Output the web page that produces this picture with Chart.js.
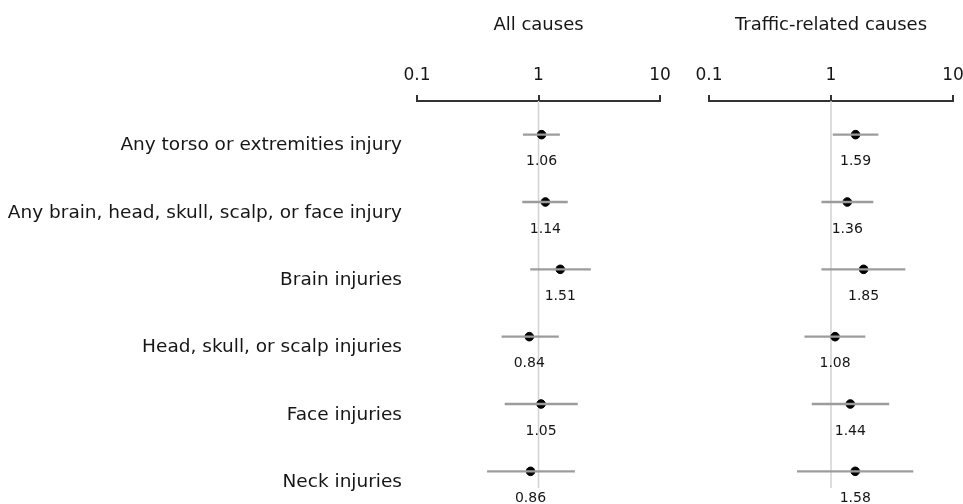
<!DOCTYPE html>
<html>
<head>
<meta charset="utf-8">
<script src="https://cdn.jsdelivr.net/npm/chart.js@4/dist/chart.umd.min.js"></script>
<style>
  body { margin: 0; background: #fff; }
  #wrap { position: relative; width: 963px; height: 504px; overflow: hidden; }
  canvas { position: absolute; top: 0; }
  #allChart { left: 0; }
  #trafficChart { left: 690px; }
</style>
</head>
<body>
<div id="wrap">
  <canvas id="allChart" width="690" height="505"></canvas>
  <canvas id="trafficChart" width="273" height="505"></canvas>
</div>
<script>
const injuryLabels = [
    'Any torso or extremities injury',
    'Any brain, head, skull, scalp, or face injury',
    'Brain injuries',
    'Head, skull, or scalp injuries',
    'Face injuries',
    'Neck injuries'
];
const tickValues = [0.1, 1, 10];

// odds ratios and 95% CI
const allOR = [1.06, 1.14, 1.51, 0.84, 1.05, 0.86];
const allLow = [0.75, 0.74, 0.86, 0.50, 0.53, 0.38];
const allHigh = [1.49, 1.73, 2.68, 1.46, 2.09, 1.98];

const trafficOR = [1.59, 1.36, 1.85, 1.08, 1.44, 1.58];
const trafficLow = [1.04, 0.84, 0.84, 0.61, 0.70, 0.53];
const trafficHigh = [2.43, 2.21, 4.04, 1.90, 2.98, 4.70];

const FONT = "'DejaVu Sans', sans-serif";
const TEXT = '#161616';

const refLine = {
    id: 'refLine',
    beforeDatasetsDraw(chart) {
        const x = chart.scales.x.getPixelForValue(1);
        const ctx = chart.ctx;
        ctx.save();
        ctx.strokeStyle = '#d2d2d2';
        ctx.lineWidth = 1.5;
        ctx.beginPath();
        ctx.moveTo(x, chart.chartArea.top);
        ctx.lineTo(x, chart.chartArea.bottom - 17);
        ctx.stroke();
        ctx.restore();
    }
};

const valueLabels = {
    id: 'valueLabels',
    afterDatasetsDraw(chart) {
        const meta = chart.getDatasetMeta(1);
        const ctx = chart.ctx;
        ctx.save();
        ctx.font = '14px ' + FONT;
        ctx.fillStyle = TEXT;
        ctx.textAlign = 'center';
        ctx.textBaseline = 'middle';
        meta.data.forEach((pt, i) => {
            ctx.fillText(chart.data.datasets[1].data[i].toFixed(2), pt.x, pt.y + 27);
        });
        ctx.restore();
    }
};

function makeChart(id, title, or, low, high, showLabels, padding) {
    new Chart(document.getElementById(id), {
        type: 'bar',
        data: {
            labels: injuryLabels,
            datasets: [{
                type: 'bar',
                data: low.map((l, i) => [l, high[i]]),
                backgroundColor: '#9c9c9c',
                barThickness: 1.6,
                grouped: false
            }, {
                type: 'line',
                data: or,
                showLine: false,
                clip: false,
                pointRadius: 4.3,
                pointHoverRadius: 4.3,
                pointBackgroundColor: '#000',
                pointBorderColor: '#000'
            }]
        },
        options: {
            responsive: false,
            animation: false,
            indexAxis: 'y',
            layout: { padding: padding, autoPadding: false },
            plugins: { legend: { display: false }, tooltip: { enabled: false } },
            scales: {
                x: {
                    type: 'logarithmic',
                    position: 'top',
                    min: 0.1,
                    max: 10,
                    afterBuildTicks: s => { s.ticks = tickValues.map(v => ({ value: v })); },
                    afterFit: s => {
                        s.height = 100;
                        s.paddingLeft = 0;
                        s.paddingRight = 0;
                    },
                    ticks: {
                        callback: v => String(v),
                        font: { family: FONT, size: 17 },
                        color: TEXT,
                        padding: 9,
                        maxRotation: 0
                    },
                    grid: {
                        drawOnChartArea: false,
                        drawTicks: true,
                        tickLength: 6,
                        color: '#333',
                        lineWidth: 2
                    },
                    border: { display: true, color: '#333', width: 2 },
                    title: {
                        display: true,
                        text: title,
                        font: { family: FONT, size: 18 },
                        color: TEXT,
                        padding: { top: 14, bottom: 0 }
                    }
                },
                y: {
                    type: 'category',
                    display: showLabels,
                    offset: true,
                    afterFit: s => {
                        if (showLabels) s.width = 417;
                        s.paddingTop = 0;
                        s.paddingBottom = 0;
                    },
                    ticks: {
                        font: { family: FONT, size: 18.5 },
                        color: TEXT,
                        padding: 7,
                        labelOffset: 11,
                        autoSkip: false
                    },
                    grid: { display: false },
                    border: { display: false }
                }
            }
        },
        plugins: [refLine, valueLabels]
    });
}

makeChart('allChart', 'All causes', allOR, allLow, allHigh, true, { left: 0, right: 30, top: 1, bottom: 0 });
makeChart('trafficChart', 'Traffic-related causes', trafficOR, trafficLow, trafficHigh, false, { left: 19, right: 10, top: 1, bottom: 0 });
</script>
</body>
</html>
